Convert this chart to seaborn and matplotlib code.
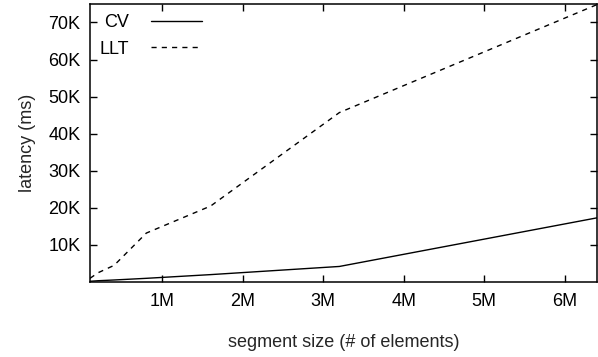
import numpy as np
import pandas as pd
import seaborn as sns
import matplotlib.pyplot as plt
from matplotlib.ticker import FuncFormatter

# data (segment sizes double each step)
sizes = [100000, 200000, 400000, 800000, 1600000, 3200000, 6400000]
cv_latency = [200, 350, 550, 1000, 2000, 4200, 17300]
llt_latency = [1000, 2500, 4500, 13200, 20500, 45700, 74800]

df = pd.DataFrame({
    "size": sizes * 2,
    "latency": cv_latency + llt_latency,
    "method": ["CV"] * len(sizes) + ["LLT"] * len(sizes),
})

fs = 13

sns.set_style("ticks")
plt.rcParams["font.family"] = ["Liberation Sans", "DejaVu Sans"]
plt.rcParams["font.size"] = fs

fig = plt.figure(figsize=(5.98, 3.57), dpi=100)
ax = fig.add_axes([0.1505, 0.21, 0.8475, 0.779])

sns.lineplot(data=df, x="size", y="latency", style="method",
             color="black", linewidth=1.0,
             dashes={"CV": "", "LLT": (3.7, 3.7)}, ax=ax)

ax.set_xlim(100000, 6400000)
ax.set_ylim(0, 75000)
ax.set_xticks([1e6, 2e6, 3e6, 4e6, 5e6, 6e6])
ax.set_yticks([10000, 20000, 30000, 40000, 50000, 60000, 70000])
ax.xaxis.set_major_formatter(FuncFormatter(lambda v, p: f"{int(v / 1e6)}M"))
ax.yaxis.set_major_formatter(FuncFormatter(lambda v, p: f"{int(v / 1000)}K"))

ax.tick_params(direction="in", length=5, width=1, top=True, right=True,
               colors="black", labelsize=fs)
ax.tick_params(axis="x", pad=8)
ax.tick_params(axis="y", pad=7)
for s in ax.spines.values():
    s.set_visible(True)
    s.set_linewidth(1.1)
    s.set_color("black")

ax.set_xlabel("segment size (# of elements)", fontsize=fs, labelpad=17)
ax.set_ylabel("latency (ms)", fontsize=fs, labelpad=9)

leg = ax.legend(loc="upper left", frameon=False, markerfirst=False,
                handlelength=2.8, handletextpad=1.2, labelspacing=0.55,
                borderaxespad=0.15, fontsize=fs)
for t in leg.get_texts():
    t.set_color("black")

fig.savefig("out.png", dpi=100)
